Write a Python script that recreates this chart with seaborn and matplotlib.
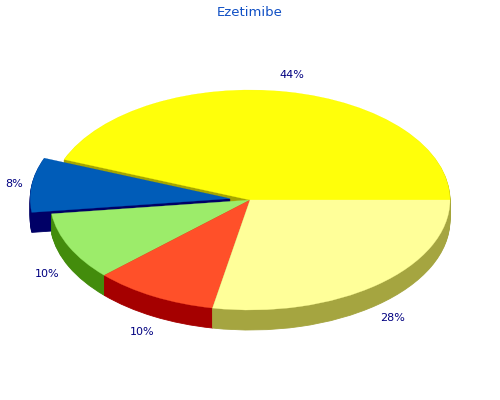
import numpy as np
import seaborn as sns
import matplotlib.pyplot as plt

# values, counter-clockwise from 3 o'clock
labels = ['44%', '8%', '10%', '10%', '28%']
values = [44, 8, 10, 10, 28]
top_colors = ['#ffff0a', '#005cb8', '#9cec6a', '#ff5029', '#ffff99']
side_colors = ['#a5a500', '#000066', '#438c0c', '#a50000', '#a5a540']

# pie is squashed: 200px wide radius, 110px high radius
rx = 200
ry = 110
depth = 20 / ry
explode = [0, 0.1, 0, 0, 0]

sns.set_theme(style='white')
plt.rcParams['font.family'] = ['DejaVu Sans']

fig = plt.figure(figsize=(5, 4), dpi=100)
ax = fig.add_axes([0, 0, 1, 1])

angles = np.cumsum([0] + values) / sum(values) * 360


def draw_slice(i):
    # one slice at a time, back to front, so the sides overlap properly
    mid = np.radians((angles[i] + angles[i + 1]) / 2)
    cx = explode[i] * np.cos(mid)
    cy = explode[i] * np.sin(mid)
    sizes = [values[i], sum(values) - values[i]]
    # sides: stack of dark copies going down
    for k in np.linspace(1, 0, 21)[:-1]:
        w, _ = ax.pie(sizes, startangle=angles[i], colors=[side_colors[i], 'none'],
                      center=(cx, cy - depth * k), radius=1,
                      wedgeprops={'edgecolor': side_colors[i], 'linewidth': 0.6})
        w[1].set_visible(False)
    w, _ = ax.pie(sizes, startangle=angles[i], colors=[top_colors[i], 'none'],
                  center=(cx, cy), radius=1,
                  wedgeprops={'edgecolor': top_colors[i], 'linewidth': 0.2})
    w[1].set_visible(False)


for i in [0, 1, 2, 3, 4]:
    draw_slice(i)

ax.set_aspect('auto')
ax.set_xlim(-250 / rx, 250 / rx)
ax.set_ylim(-200 / ry, 200 / ry)
ax.axis('off')

# percent labels sit outside the rim, lower ones below the side too
for i, lab in enumerate(labels):
    mid = np.radians((angles[i] + angles[i + 1]) / 2)
    px = np.cos(mid) * (1.12 + explode[i] * 0.7)
    py = np.sin(mid) * 1.16
    if py < 0:
        py -= depth
    ax.text(px, py, lab, color='#000080', fontsize=8, ha='center', va='center')

ax.text(0, 188 / ry, 'Ezetimibe', color='#0f4fc4', fontsize=9.5, ha='center', va='center')

plt.savefig('out.png', dpi=100)
